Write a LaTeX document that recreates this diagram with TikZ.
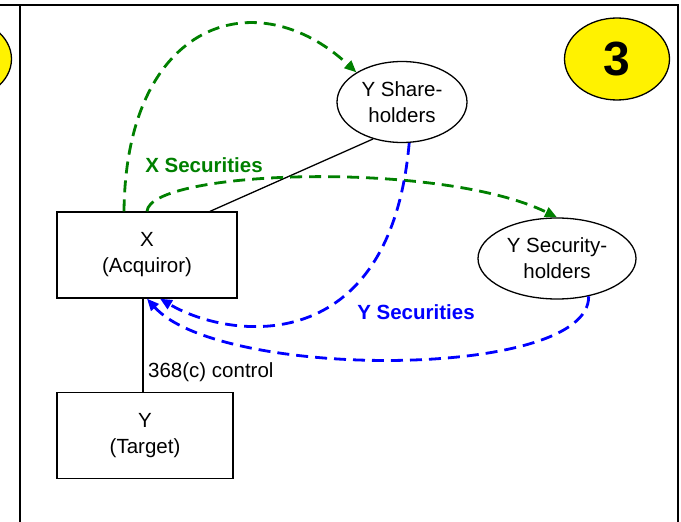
\documentclass[tikz,border=0pt]{standalone}
\usepackage{fontspec}
\setmainfont{Liberation Sans}
\usetikzlibrary{arrows.meta,shapes.geometric}
\definecolor{xgreen}{RGB}{0,128,0}
\definecolor{yblue}{RGB}{0,0,255}

\begin{document}
\begin{tikzpicture}[x=1bp,y=-1bp,
    every node/.style={font=\fontsize{20.5bp}{26bp}\selectfont},
    party/.style={rectangle,draw,line width=1.3bp,minimum width=180bp,minimum height=86bp,align=center,inner sep=0pt},
    holders/.style={ellipse,draw,line width=1.3bp,minimum width=130bp,minimum height=81bp,align=center,inner sep=0pt},
    badge/.style={ellipse,draw,fill=yellow,line width=1.3bp,minimum width=105bp,minimum height=82bp,inner sep=0pt,font=\fontsize{48bp}{48bp}\selectfont\bfseries},
    flow/.style={line width=2.8bp,dash pattern=on 12bp off 7bp,-{Triangle[length=12bp,width=10bp]}},
    flowlbl/.style={font=\fontsize{20.5bp}{26bp}\selectfont\bfseries}]
    \useasboundingbox (0,0) rectangle (681,522);

    % Panel frame
    \draw[line width=2bp] (0,5) -- (679,5);
    \draw[line width=2bp] (20,5) -- (20,522);
    \draw[line width=2bp] (678,5) -- (678,522);

    % Step numbers
    \node[badge] (prev) at (-41,59) {};
    \node[badge] (num) at (617,59) {3};

    % Parties
    \node[party] (acq) at (147,255) {X\\(Acquiror)};
    \node[party,minimum width=176bp] (tgt) at (145,435.5) {Y\\(Target)};
    \node[holders] (ysh) at (402,102) {Y Share-\\holders};
    \node[holders,minimum width=158bp] (ysec) at (557,258.5) {Y Security-\\holders};

    % Control and holding links
    \coordinate (ctop) at ([xshift=-4bp]acq.south);
    \draw[line width=1.3bp] (ctop) -- (ctop |- tgt.north);
    \node[anchor=west,inner sep=0pt] (ctl) at (148,372) {368(c) control};
    \draw[line width=1.3bp] ([xshift=63bp]acq.north) -- (ysh.232);

    % X securities
    \draw[flow,xgreen] ([xshift=-23bp]acq.north) .. controls (126,20) and (257,-20) .. (ysh.147);
    \draw[flow,xgreen] (acq.north) .. controls (150,170) and (440,160) .. (ysec.north);
    \node[flowlbl,xgreen] (xlbl) at (204,165) {X Securities};

    % Y securities
    \draw[flow,yblue] (ysh.280) .. controls (390,360) and (230,340) .. ([xshift=13bp]acq.south);
    \draw[flow,yblue] (ysec.310) .. controls (590,380) and (220,380) .. (acq.south);
    \node[flowlbl,yblue] (ylbl) at (416,312) {Y Securities};
\end{tikzpicture}
\end{document}
